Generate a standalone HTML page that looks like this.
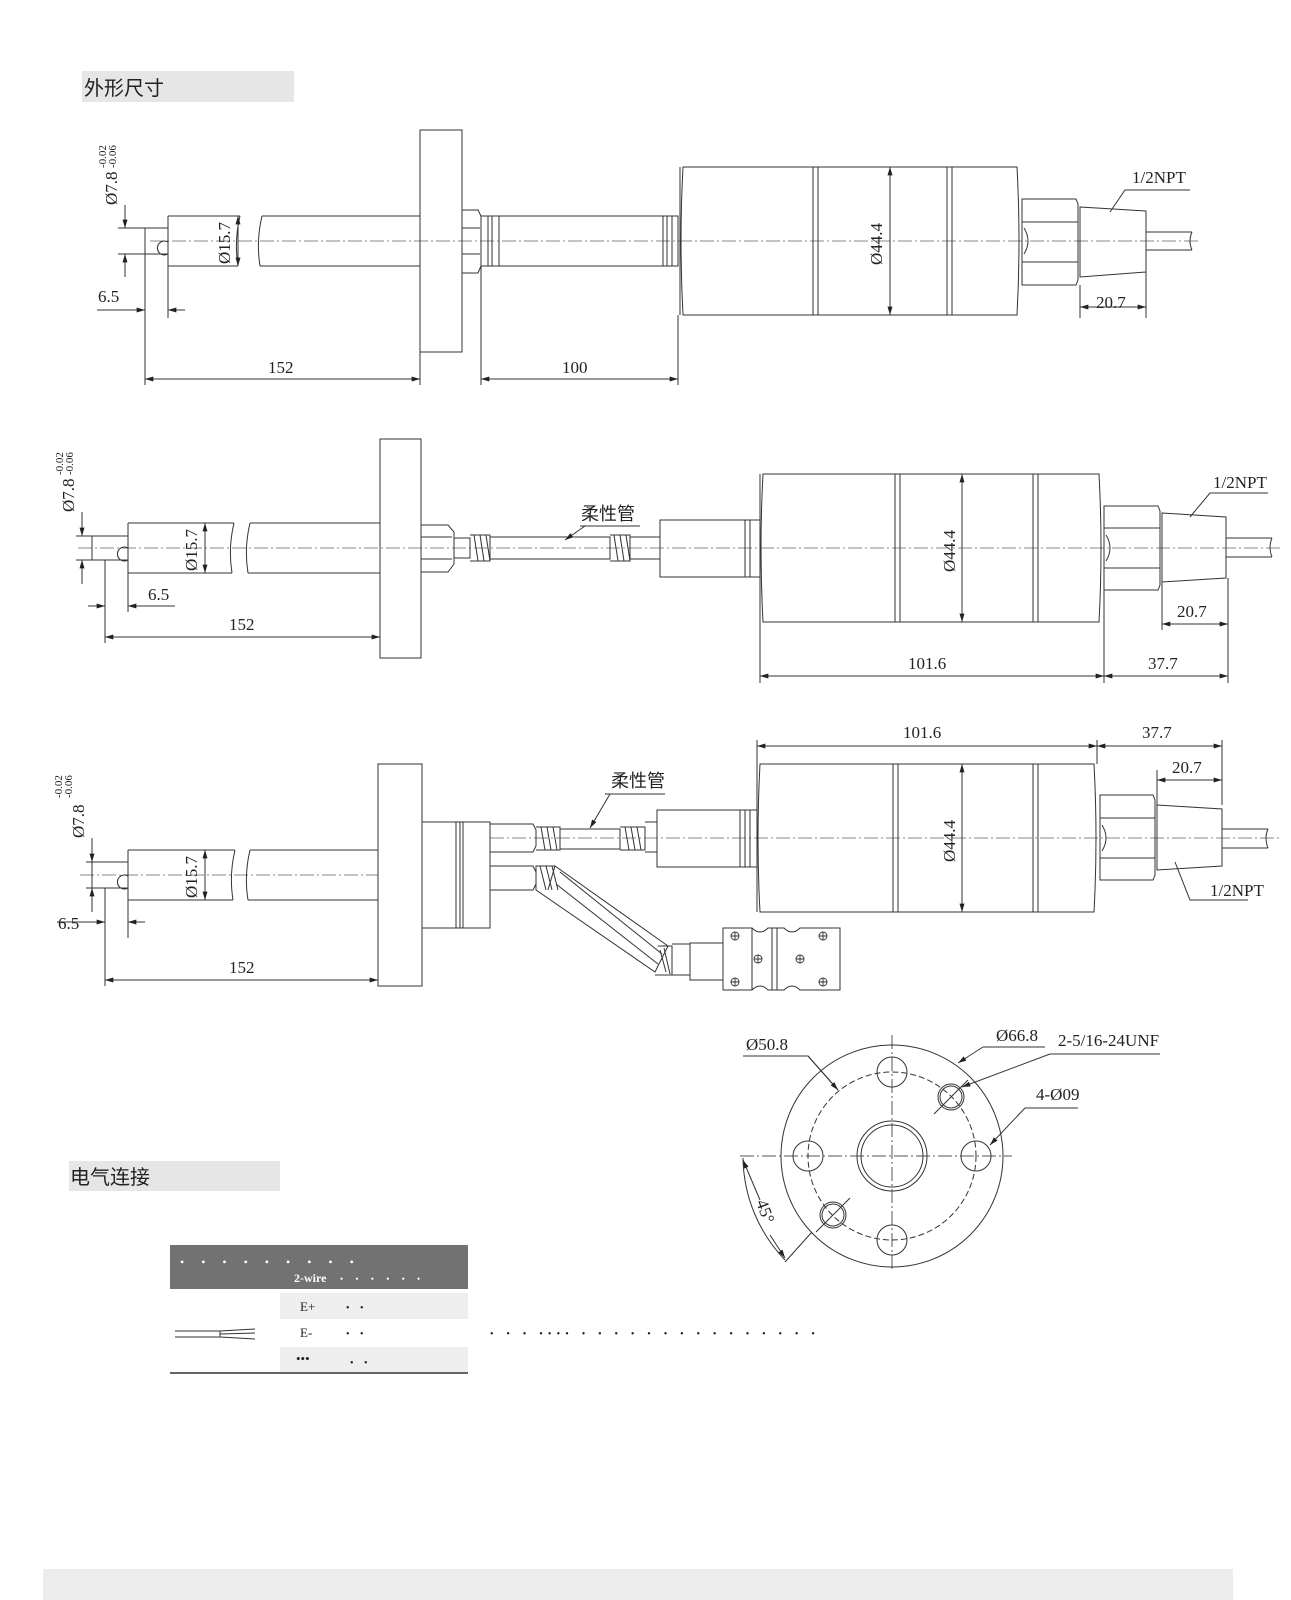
<!DOCTYPE html>
<html><head><meta charset="utf-8"><style>
html,body{margin:0;padding:0;background:#fff;}
svg{display:block}
text{font-family:"Liberation Serif","Noto Serif CJK SC",serif;fill:#222}
.cn{font-family:"Liberation Sans","Noto Sans CJK SC",sans-serif}
</style></head><body>
<svg width="1291" height="1600" viewBox="0 0 1291 1600" xmlns="http://www.w3.org/2000/svg">
<defs>
<marker id="a" viewBox="0 0 10 6" refX="10" refY="3" markerWidth="12" markerHeight="5" orient="auto-start-reverse" markerUnits="userSpaceOnUse"><path d="M0,0L10,3L0,6z" fill="#222"/></marker>
</defs>
<g fill="none" stroke="#333" stroke-width="1">
<!-- headers -->
<rect x="82" y="71" width="212" height="31" fill="#e6e6e6" stroke="none"/>
<rect x="69" y="1161" width="211" height="30" fill="#e6e6e6" stroke="none"/>
<rect x="43" y="1569" width="1190" height="31" fill="#ececec" stroke="none"/>

<!-- ===== Drawing 1 ===== -->
<line x1="150" y1="241" x2="1200" y2="241" stroke="#888" stroke-dasharray="14,3,2,3"/>
<rect x="145" y="228" width="23" height="26"/>
<path d="M168 216H240M168 266H238M168 216V266M262 216H420M260 266H420M240 216q-6 25 -2 50M262 216q-6 25 -2 50"/>
<path d="M168 254a7 7 0 1 1 0 -12"/>
<rect x="420" y="130" width="42" height="222"/>
<path d="M462 210H478L481 216V266L478 273H462ZM462 228H480M462 254H480"/>
<rect x="481" y="216" width="197" height="50"/>
<path d="M488 216V266M492 216V266M499 216V266M663 216V266M667 216V266M672 216V266"/>
<path d="M683 167H1017Q1021 241 1017 315H683Q679 241 683 167ZM680 167V315"/>
<path d="M813 167V315M818 167V315M947 167V315M952 167V315"/>
<path d="M1022 199H1076L1078 204V280L1076 285H1022ZM1022 222H1078M1022 262H1078"/>
<path d="M1024 228q8 13 0 26"/>
<path d="M1080 207L1146 211V272L1080 277ZM1146 232H1192M1146 250H1192M1192 232q-4 9 0 18"/>
<!-- dims 1 -->
<path d="M118 228H145M118 254H145"/>
<line x1="125" y1="205" x2="125" y2="228" marker-end="url(#a)"/>
<line x1="125" y1="277" x2="125" y2="254" marker-end="url(#a)"/>
<line x1="238" y1="241" x2="238" y2="216" marker-end="url(#a)"/>
<line x1="238" y1="241" x2="238" y2="266" marker-end="url(#a)"/>
<path d="M145 254V385M168 254V318M420 352V385M481 266V385M678 315V385"/>
<line x1="97" y1="310" x2="145" y2="310" marker-end="url(#a)"/>
<line x1="185" y1="310" x2="168" y2="310" marker-end="url(#a)"/>
<line x1="145" y1="379" x2="420" y2="379" marker-start="url(#a)" marker-end="url(#a)"/>
<line x1="481" y1="379" x2="678" y2="379" marker-start="url(#a)" marker-end="url(#a)"/>
<line x1="890" y1="167" x2="890" y2="315" marker-start="url(#a)" marker-end="url(#a)"/>
<path d="M1080 285V318M1146 272V318"/>
<line x1="1080" y1="307" x2="1146" y2="307" marker-start="url(#a)" marker-end="url(#a)"/>
<path d="M1110 212L1125 190H1190"/>

<!-- ===== Drawing 2 ===== -->
<line x1="78" y1="548" x2="1280" y2="548" stroke="#888" stroke-dasharray="14,3,2,3"/>
<rect x="92" y="536" width="36" height="24"/>
<path d="M128 523H234M128 573H232M128 523V573M250 523H380M248 573H380M234 523q-6 25 -2 50M250 523q-6 25 -2 50"/>
<path d="M128 560a7 7 0 1 1 0 -12"/>
<rect x="380" y="439" width="41" height="219"/>
<path d="M421 525H448L454 532V564L448 572H421ZM421 537H452M421 559H452"/>
<path d="M454 538H470V558H454M470 535H490V561H470M474 535L478 561M480 535L484 561M486 535L490 561"/>
<rect x="490" y="537" width="120" height="22"/>
<path d="M610 535H630V561H610M614 535L618 561M620 535L624 561M626 535L630 561M630 537H660V559H630"/>
<rect x="660" y="520" width="100" height="57"/>
<path d="M745 520V577M750 520V577"/>
<path d="M763 474H1099Q1103 548 1099 622H763Q759 548 763 474ZM760 474V622"/>
<path d="M895 474V622M900 474V622M1033 474V622M1038 474V622"/>
<path d="M1104 506H1158L1160 511V585L1158 590H1104ZM1104 528H1160M1104 568H1160"/>
<path d="M1106 535q8 13 0 26"/>
<path d="M1162 513L1226 517V578L1162 582ZM1226 538H1272M1226 557H1272M1272 538q-4 9 0 19"/>
<!-- dims 2 -->
<path d="M76 536H92M76 560H92"/>
<line x1="82" y1="512" x2="82" y2="536" marker-end="url(#a)"/>
<line x1="82" y1="584" x2="82" y2="560" marker-end="url(#a)"/>
<line x1="205" y1="548" x2="205" y2="523" marker-end="url(#a)"/>
<line x1="205" y1="548" x2="205" y2="573" marker-end="url(#a)"/>
<path d="M105 560V643M128 573V612M380 658V643M760 622V683M1104 590V683M1228 578V683M1162 582V630"/>
<line x1="88" y1="606" x2="105" y2="606" marker-end="url(#a)"/>
<line x1="175" y1="606" x2="128" y2="606" marker-end="url(#a)"/>
<line x1="105" y1="637" x2="380" y2="637" marker-start="url(#a)" marker-end="url(#a)"/>
<line x1="760" y1="676" x2="1104" y2="676" marker-start="url(#a)" marker-end="url(#a)"/>
<line x1="1104" y1="676" x2="1228" y2="676" marker-start="url(#a)" marker-end="url(#a)"/>
<line x1="1162" y1="624" x2="1228" y2="624" marker-start="url(#a)" marker-end="url(#a)"/>
<line x1="962" y1="474" x2="962" y2="622" marker-start="url(#a)" marker-end="url(#a)"/>
<path d="M1190 517L1210 493H1268"/>
<path d="M580 526H640"/>
<line x1="585" y1="526" x2="565" y2="540" marker-end="url(#a)"/>

<!-- ===== Drawing 3 ===== -->
<line x1="80" y1="875" x2="378" y2="875" stroke="#888" stroke-dasharray="14,3,2,3"/>
<line x1="490" y1="838" x2="1280" y2="838" stroke="#888" stroke-dasharray="14,3,2,3"/>
<rect x="92" y="862" width="36" height="26"/>
<path d="M128 850H235M128 900H233M128 850V900M250 850H378M248 900H378M235 850q-6 25 -2 50M250 850q-6 25 -2 50"/>
<path d="M128 888a7 7 0 1 1 0 -12"/>
<rect x="378" y="764" width="44" height="222"/>
<rect x="422" y="822" width="68" height="106"/>
<path d="M456 822V928M460 822V928M463 822V928"/>
<path d="M490 824H533L536 830V846L533 852H490ZM536 827H560V850H536M541 827L545 850M547 827L551 850M553 827L557 850"/>
<rect x="560" y="829" width="60" height="20"/>
<path d="M620 827H645V850H620M625 827L629 850M631 827L635 850M637 827L641 850M645 822H657V852H645"/>
<rect x="657" y="810" width="100" height="57"/>
<path d="M740 810V867M745 810V867M750 810V867"/>
<path d="M760 764H1094Q1098 838 1094 912H760Q756 838 760 764ZM757 764V912"/>
<path d="M893 764V912M898 764V912M1033 764V912M1038 764V912"/>
<path d="M1100 795H1153L1155 800V875L1153 880H1100ZM1100 818H1155M1100 858H1155"/>
<path d="M1102 825q8 13 0 26"/>
<path d="M1157 805L1222 809V866L1157 870ZM1222 829H1268M1222 848H1268M1268 829q-4 9 0 19"/>
<!-- lower tube -->
<path d="M490 866H533L536 872V884L533 890H490"/>
<path d="M536 866L555 866L668 946L655 972L536 890Z"/>
<path d="M540 866L546 890M546 866L552 890M552 866L558 890M555 866L548 890"/>
<path d="M560 872L662 954M556 884L658 964"/>
<path d="M658 946L672 946L672 975L655 975M660 950L666 972M664 948L670 974"/>
<path d="M672 944H690V975H672"/>
<rect x="690" y="943" width="33" height="37"/>
<path d="M723 928H752Q760 936 768 928H784Q792 936 800 928H840V990H800Q792 982 784 990H768Q760 982 752 990H723ZM752 928V990M772 928V990M777 928V990"/>
<g stroke-width="0.9">
<circle cx="735" cy="936" r="4"/><path d="M731 936h8M735 932v8"/>
<circle cx="735" cy="982" r="4"/><path d="M731 982h8M735 978v8"/>
<circle cx="758" cy="959" r="4"/><path d="M754 959h8M758 955v8"/>
<circle cx="800" cy="959" r="4"/><path d="M796 959h8M800 955v8"/>
<circle cx="823" cy="936" r="4"/><path d="M819 936h8M823 932v8"/>
<circle cx="823" cy="982" r="4"/><path d="M819 982h8M823 978v8"/>
</g>
<!-- dims 3 -->
<path d="M86 862H92M86 888H92"/>
<line x1="92" y1="838" x2="92" y2="862" marker-end="url(#a)"/>
<line x1="92" y1="912" x2="92" y2="888" marker-end="url(#a)"/>
<line x1="205" y1="875" x2="205" y2="850" marker-end="url(#a)"/>
<line x1="205" y1="875" x2="205" y2="900" marker-end="url(#a)"/>
<path d="M105 888V986M128 900V938M757 764V740M1097 764V740M1222 805V740M1157 805V770"/>
<line x1="57" y1="922" x2="105" y2="922" marker-end="url(#a)"/>
<line x1="145" y1="922" x2="128" y2="922" marker-end="url(#a)"/>
<line x1="105" y1="980" x2="378" y2="980" marker-start="url(#a)" marker-end="url(#a)"/>
<line x1="757" y1="746" x2="1097" y2="746" marker-start="url(#a)" marker-end="url(#a)"/>
<line x1="1097" y1="746" x2="1222" y2="746" marker-start="url(#a)" marker-end="url(#a)"/>
<line x1="1157" y1="780" x2="1222" y2="780" marker-start="url(#a)" marker-end="url(#a)"/>
<line x1="962" y1="764" x2="962" y2="912" marker-start="url(#a)" marker-end="url(#a)"/>
<path d="M1175 862L1190 900H1248"/>
<path d="M605 794H665"/>
<line x1="610" y1="794" x2="590" y2="828" marker-end="url(#a)"/>

<!-- ===== Circle view ===== -->
<line x1="740" y1="1156" x2="1012" y2="1156" stroke="#555" stroke-dasharray="14,3,2,3"/>
<line x1="892" y1="1035" x2="892" y2="1270" stroke="#555" stroke-dasharray="14,3,2,3"/>
<circle cx="892" cy="1156" r="111"/>
<circle cx="892" cy="1156" r="84" stroke-dasharray="6,3"/>
<circle cx="892" cy="1156" r="35"/><circle cx="892" cy="1156" r="31"/>
<circle cx="892" cy="1072" r="15"/><circle cx="976" cy="1156" r="15"/><circle cx="808" cy="1156" r="15"/><circle cx="892" cy="1240" r="15"/>
<circle cx="951" cy="1097" r="13"/><circle cx="951" cy="1097" r="11"/>
<circle cx="833" cy="1215" r="13"/><circle cx="833" cy="1215" r="11"/>
<path d="M934 1114L968 1080M816 1232L850 1198"/>
<path d="M743 1056H808L838 1090"/>
<line x1="808" y1="1056" x2="838" y2="1090" marker-end="url(#a)"/>
<path d="M1045 1047H983"/>
<line x1="983" y1="1047" x2="958" y2="1063" marker-end="url(#a)"/>
<path d="M1160 1054H1050"/>
<line x1="1050" y1="1054" x2="962" y2="1087" marker-end="url(#a)"/>
<path d="M1078 1108H1025"/>
<line x1="1025" y1="1108" x2="990" y2="1145" marker-end="url(#a)"/>
<path d="M743 1158A150 150 0 0 0 785 1260" />
<line x1="760" y1="1200" x2="743" y2="1160" marker-end="url(#a)"/>
<line x1="770" y1="1235" x2="785" y2="1258" marker-end="url(#a)"/>
<path d="M785 1262L812 1232"/>
</g>

<!-- text -->
<text x="84" y="95" class="cn" font-size="20">外形尺寸</text>
<text x="70" y="1184" class="cn" font-size="20">电气连接</text>
<g font-size="17">
<text transform="translate(117,205) rotate(-90)">Ø7.8</text>
<text transform="translate(106,168) rotate(-90)" font-size="11">-0.02</text>
<text transform="translate(116,168) rotate(-90)" font-size="11">-0.06</text>
<text transform="translate(230,264) rotate(-90)">Ø15.7</text>
<text x="98" y="302">6.5</text>
<text x="268" y="373">152</text>
<text x="562" y="373">100</text>
<text transform="translate(882,265) rotate(-90)">Ø44.4</text>
<text x="1096" y="308">20.7</text>
<text x="1132" y="183">1/2NPT</text>

<text transform="translate(74,512) rotate(-90)">Ø7.8</text>
<text transform="translate(63,475) rotate(-90)" font-size="11">-0.02</text>
<text transform="translate(73,475) rotate(-90)" font-size="11">-0.06</text>
<text transform="translate(197,571) rotate(-90)">Ø15.7</text>
<text x="148" y="600">6.5</text>
<text x="229" y="630">152</text>
<text x="908" y="669">101.6</text>
<text x="1148" y="669">37.7</text>
<text x="1177" y="617">20.7</text>
<text x="1213" y="488">1/2NPT</text>
<text transform="translate(955,572) rotate(-90)">Ø44.4</text>
<text x="581" y="520" class="cn" font-size="18">柔性管</text>

<text transform="translate(84,838) rotate(-90)">Ø7.8</text>
<text transform="translate(62,798) rotate(-90)" font-size="11">-0.02</text>
<text transform="translate(72,798) rotate(-90)" font-size="11">-0.06</text>
<text transform="translate(197,898) rotate(-90)">Ø15.7</text>
<text x="58" y="929">6.5</text>
<text x="229" y="973">152</text>
<text x="903" y="738">101.6</text>
<text x="1142" y="738">37.7</text>
<text x="1172" y="773">20.7</text>
<text x="1210" y="896">1/2NPT</text>
<text transform="translate(955,862) rotate(-90)">Ø44.4</text>
<text x="611" y="787" class="cn" font-size="18">柔性管</text>

<text x="746" y="1050">Ø50.8</text>
<text x="996" y="1041">Ø66.8</text>
<text x="1058" y="1046">2-5/16-24UNF</text>
<text x="1036" y="1100">4-Ø09</text>
<text transform="translate(756,1202) rotate(70)">45°</text>
</g>

<!-- table -->
<rect x="170" y="1245" width="298" height="44" fill="#727272"/>
<rect x="280" y="1293" width="188" height="26" fill="#eeeeee"/>
<rect x="280" y="1347" width="188" height="26" fill="#eeeeee"/>
<rect x="170" y="1372" width="298" height="2" fill="#666"/>
<g class="cn" font-family="Liberation Sans,sans-serif">
<text x="180" y="1266" font-size="12" fill="#fff" style="fill:#fff" letter-spacing="7">• • • • • • • • •</text>
<text x="294" y="1282" font-size="12" font-weight="bold" style="fill:#fff">2-wire</text>
<text x="340" y="1282" font-size="9" style="fill:#fff" letter-spacing="5">• • • • • •</text>
<text x="300" y="1311" font-size="13">E+</text><text x="346" y="1311" font-size="10" letter-spacing="4">• •</text>
<text x="300" y="1337" font-size="13">E-</text><text x="346" y="1337" font-size="10" letter-spacing="4">• •</text>
<text x="296" y="1363" font-size="13">•••</text><text x="350" y="1366" font-size="10" letter-spacing="4">• •</text>
<text x="490" y="1337" font-size="10" letter-spacing="5.2">• • • •••• • • • • • • • • • • • • • • •</text>
</g>
<g stroke="#333" fill="none" stroke-width="1">
<path d="M175 1331H220M175 1337H220M220 1331V1337M220 1331L255 1329M220 1334L255 1333M220 1337L255 1339"/>
</g>
</svg>
</body></html>
